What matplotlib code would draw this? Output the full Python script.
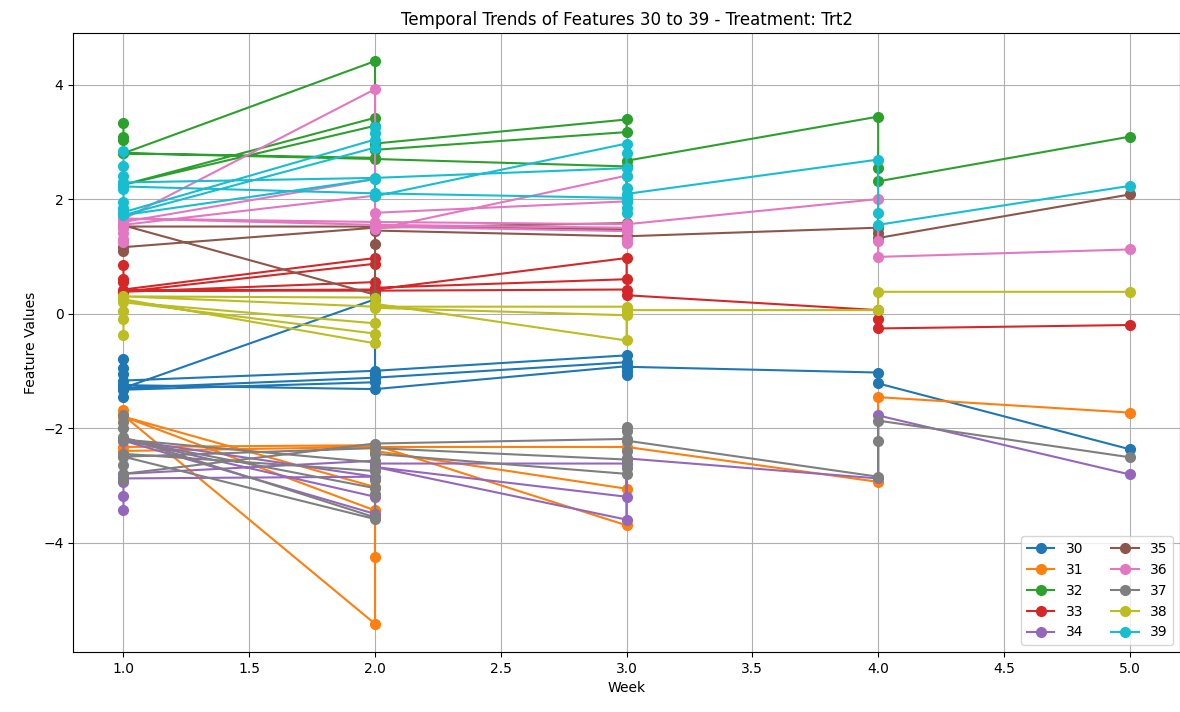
import matplotlib
matplotlib.use("Agg")
import matplotlib.pyplot as plt

# rows in the order they are connected, one sequence per feature
weeks_30 = [1, 1, 1, 1, 2, 3, 3, 2, 1, 2, 2, 2, 1, 1, 1, 2, 3, 3, 3, 3, 4, 4, 5]
vals_30 = [-0.80, -0.95, -1.05, -1.17, -1.00, -0.73, -0.85, -1.12, -1.30, 0.25, -1.05, -1.20,
           -1.33, -1.45, -1.25, -1.32, -0.92, -1.00, -1.08, -0.93, -1.03, -1.22, -2.37]

weeks_31 = [1, 1, 2, 2, 2, 1, 2, 2, 3, 3, 2, 1, 1, 2, 3, 4, 4, 5]
vals_31 = [-1.69, -1.78, -5.42, -4.26, -3.44, -1.80, -3.03, -2.40, -3.06, -3.70, -2.30, -2.33,
           -2.40, -2.33, -2.33, -2.94, -1.46, -1.73]

weeks_32 = [1, 1, 1, 1, 2, 2, 1, 2, 2, 3, 3, 2, 2, 1, 2, 3, 3, 4, 4, 4, 5]
vals_32 = [3.33, 3.08, 3.03, 2.80, 4.41, 3.42, 2.25, 3.28, 2.97, 3.39, 3.17, 2.86, 2.72, 2.80,
           2.70, 2.57, 2.67, 3.44, 2.54, 2.31, 3.09]

weeks_33 = [1, 1, 1, 1, 2, 2, 1, 2, 2, 3, 3, 2, 1, 2, 3, 3, 4, 4, 4, 5]
vals_33 = [0.84, 0.61, 0.55, 0.42, 0.97, 0.87, 0.38, 0.55, 0.45, 0.60, 0.97, 0.42, 0.40, 0.40,
           0.42, 0.32, 0.06, -0.09, -0.26, -0.20]

weeks_34 = [1, 1, 1, 1, 2, 1, 2, 2, 1, 1, 2, 2, 3, 3, 2, 3, 3, 4, 4, 5]
vals_34 = [-3.44, -3.18, -2.95, -2.88, -2.85, -2.20, -3.20, -3.50, -2.22, -2.80, -2.57, -2.62,
           -2.62, -3.20, -2.68, -3.60, -2.53, -2.88, -1.78, -2.81]

weeks_35 = [1, 1, 2, 3, 3, 2, 1, 1, 2, 2, 2, 3, 4, 4, 4, 5]
vals_35 = [1.10, 1.16, 1.50, 1.58, 1.47, 1.52, 1.52, 1.54, 0.33, 1.22, 1.45, 1.35, 1.50, 1.40,
           1.32, 2.08]

weeks_36 = [1, 1, 1, 1, 1, 1, 2, 2, 1, 1, 2, 2, 3, 3, 2, 2, 3, 3, 3, 3, 2, 1, 2, 3, 4, 4, 4, 5]
vals_36 = [1.25, 1.30, 1.40, 1.50, 1.72, 1.65, 3.92, 2.35, 1.60, 1.55, 2.06, 1.76, 1.96, 2.41,
           1.47, 1.52, 1.44, 1.30, 1.24, 1.50, 1.55, 1.66, 1.60, 1.56, 2.00, 1.26, 0.99, 1.12]

weeks_37 = [1, 1, 1, 1, 2, 2, 2, 1, 2, 2, 3, 3, 3, 2, 1, 2, 2, 2, 1, 1, 1, 1, 2, 3, 3, 3, 3, 3,
            4, 4, 4, 5]
vals_37 = [-1.78, -1.90, -2.00, -2.16, -3.56, -3.15, -3.05, -2.20, -2.60, -2.45, -2.80, -2.70,
           -2.55, -2.35, -2.50, -3.59, -2.90, -2.75, -2.45, -2.65, -2.90, -2.80, -2.27, -2.19,
           -1.98, -2.05, -2.40, -2.22, -2.85, -2.22, -1.87, -2.51]

weeks_38 = [1, 1, 1, 1, 2, 2, 1, 2, 2, 1, 2, 3, 3, 2, 2, 3, 3, 3, 4, 4, 5]
vals_38 = [-0.38, -0.09, 0.05, 0.25, -0.52, -0.35, 0.20, -0.17, 0.28, 0.30, 0.12, 0.12, -0.03,
           0.10, 0.17, -0.47, 0.00, 0.06, 0.06, 0.38, 0.38]

weeks_39 = [1, 1, 1, 1, 2, 3, 3, 3, 3, 2, 1, 1, 1, 1, 1, 2, 2, 2, 2, 1, 2, 2, 3, 3, 3, 3, 3,
            3, 4, 4, 4, 5]
vals_39 = [2.84, 2.58, 2.40, 2.29, 2.37, 2.54, 2.40, 2.20, 2.02, 2.10, 2.22, 2.17, 1.95, 1.85,
           1.77, 3.04, 3.26, 3.15, 2.90, 1.72, 2.35, 2.05, 2.97, 2.80, 1.75, 1.85, 1.95, 2.09,
           2.69, 1.75, 1.55, 2.23]

features = ["30", "31", "32", "33", "34", "35", "36", "37", "38", "39"]
series = [
    (weeks_30, vals_30), (weeks_31, vals_31), (weeks_32, vals_32), (weeks_33, vals_33),
    (weeks_34, vals_34), (weeks_35, vals_35), (weeks_36, vals_36), (weeks_37, vals_37),
    (weeks_38, vals_38), (weeks_39, vals_39),
]

fig = plt.figure(figsize=(11.8, 7.12), dpi=100)
ax = fig.add_axes([0.062, 0.0843, 0.938, 0.8694])

for name, (wk, vals) in zip(features, series):
    ax.plot(wk, vals, marker="o", markersize=7, label=name)

ax.set_title("Temporal Trends of Features 30 to 39 - Treatment: Trt2", fontsize=12)
ax.set_xlabel("Week")
ax.set_ylabel("Feature Values")
ax.grid(True)
ax.legend(loc="lower right", ncol=2, fontsize=10)

fig.savefig("out.png", dpi=100)
